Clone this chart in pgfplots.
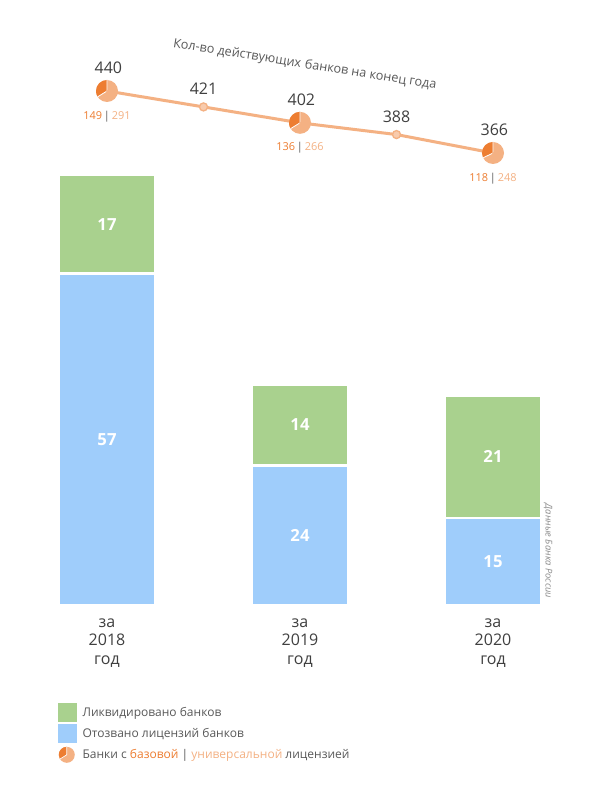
\documentclass[border=0pt]{standalone}
\usepackage{pgfplots}
\pgfplotsset{compat=1.18}
\usepackage{fontspec}
\setmainfont{Open Sans}

\definecolor{barblue}{HTML}{9FCDFB}
\definecolor{bargreen}{HTML}{A9D18E}
\definecolor{dorange}{HTML}{ED7D31}
\definecolor{lorange}{HTML}{F4B183}
\definecolor{pale}{HTML}{F8CBAD}
\definecolor{txtdark}{HTML}{404040}
\definecolor{txtgray}{HTML}{595959}
\definecolor{notegray}{HTML}{8C8C8C}

% both bar axes share the same box
\pgfplotsset{
  baraxis/.style={
    scale only axis, width=434.25pt, height=322.5pt,
    at={(7.875pt,146.25pt)}, anchor=south west,
    xmin=-0.5, xmax=2.5, ymin=0, ymax=74,
    axis line style={draw=none}, major tick length=0pt,
    ytick=\empty, clip=false,
  },
}

\begin{document}
\begin{tikzpicture}
\fill[white] (0pt,0pt) rectangle (450pt,600pt);
\useasboundingbox (0pt,0pt) rectangle (450pt,600pt);

% stacked bars
\begin{axis}[baraxis, ybar stacked, bar width=0.5,
  xtick={0,1,2},
  xticklabels={{за\\2018\\год},{за\\2019\\год},{за\\2020\\год}},
  xticklabel style={align=center, font=\fontsize{12}{13.6}\selectfont, text=txtdark, yshift=-7pt},
  legend style={at={(0.082,-0.228)}, anchor=north west, draw=none, fill=none,
    inner sep=0pt, font=\fontsize{9}{11}\selectfont, text=txtgray,
    row sep=1.5pt, column sep=3pt, nodes={inner sep=1pt}},
  legend cell align=left,
]
\addlegendimage{legend image code/.code={\fill[bargreen, draw=none] (0pt,-7.125pt) rectangle (14.25pt,7.125pt);}}
\addlegendentry{Ликвидировано банков}
\addlegendimage{legend image code/.code={\fill[barblue, draw=none] (0pt,-7.125pt) rectangle (14.25pt,7.125pt);}}
\addlegendentry{Отозвано лицензий банков}
\addlegendimage{legend image code/.code={
  \path[draw=none, fill=none] (0pt,-7.125pt) rectangle (14.25pt,7.125pt);
  \fill[lorange, draw=none] (6.4pt,0pt) circle[radius=6pt];
  \fill[dorange, draw=none] (6.4pt,0pt) -- ++(90:6pt) arc[start angle=90, end angle=212, radius=6pt] -- cycle;
  \draw[white, fill=none, line width=0.5pt] (6.4pt,6pt) -- (6.4pt,0pt) -- ++(212:6pt);}}
\addlegendentry{Банки с \textcolor{dorange}{базовой} \textcolor{txtgray}{|} \textcolor{lorange}{универсальной} лицензией}

\addplot[fill=barblue, draw=white, line width=2pt, forget plot]
  coordinates {(0,57) (1,24) (2,15)};
\addplot[fill=bargreen, draw=white, line width=2pt, forget plot]
  coordinates {(0,17) (1,14) (2,21)};
\end{axis}

% numbers inside the bars
\begin{axis}[baraxis, xtick=\empty]
\addplot[draw=none, mark=none, nodes near coords, point meta=explicit symbolic,
  every node near coord/.append style={anchor=center, text=white,
    font=\bfseries\fontsize{12.5}{14}\selectfont}]
  coordinates {(0,28.5)[57] (0,65.5)[17] (1,12)[24] (1,31)[14] (2,7.5)[15] (2,25.5)[21]};
\end{axis}

% banks at year end
\begin{axis}[scale only axis, width=434.25pt, height=113.1pt,
  at={(7.875pt,443.78pt)}, anchor=south west,
  xmin=-0.5, xmax=2.5, ymin=300, ymax=480, hide axis, clip=false,
  /pgf/number format/assume math mode=true,
]
\addplot[lorange, line width=2.25pt, mark=none]
  coordinates {(0,440) (0.5,421) (1,402) (1.5,388) (2,366)};
\addplot[only marks, mark=*, mark size=3pt,
  mark options={fill=pale, draw=lorange, line width=1pt},
  nodes near coords,
  every node near coord/.append style={anchor=center, yshift=13.5pt, text=txtdark,
    font=\fontsize{12}{14}\selectfont}]
  coordinates {(0.5,421) (1.5,388)};
\addplot[draw=none, mark=none, nodes near coords,
  every node near coord/.append style={anchor=center, xshift=1pt, yshift=17.25pt, text=txtdark,
    font=\fontsize{12}{14}\selectfont}]
  coordinates {(0,440) (1,402) (2,366)};
% pies: basic / universal licence
\addplot[scatter, only marks, mark=*, mark size=0.5pt, color=lorange,
  visualization depends on={value \thisrow{b}\as\vb},
  visualization depends on={value \thisrow{u}\as\vu},
  scatter/@pre marker code/.code={
    \pgfmathsetmacro\pieang{90+360*(\vb/(\vb+\vu))}
    \fill[lorange, draw=none] (0pt,0pt) circle[radius=8.25pt];
    \fill[dorange, draw=none] (0pt,0pt) -- (90:8.25pt) arc[start angle=90, end angle=\pieang, radius=8.25pt] -- cycle;
    \draw[white, fill=none, line width=0.6pt] (90:8.25pt) -- (0pt,0pt) -- (\pieang:8.25pt);
  },
  scatter/@post marker code/.code={}]
  table[row sep=\\] {x y b u\\ 0 440 149 291\\ 1 402 136 266\\ 2 366 118 248\\};
\addplot[draw=none, mark=none,
  visualization depends on={value \thisrow{b}\as\vb},
  visualization depends on={value \thisrow{u}\as\vu},
  nodes near coords={\textcolor{dorange}{\vb}\,\textcolor{txtgray}{|}\,\textcolor{lorange}{\vu}},
  every node near coord/.append style={anchor=center, yshift=-19pt,
    font=\fontsize{8.2}{10}\selectfont}]
  table[row sep=\\] {x y b u\\ 0 440 149 291\\ 1 402 136 266\\ 2 366 118 248\\};
\end{axis}

% tilted caption, in two halves so that its box keeps clear of the 421 label
\begin{scope}[every node/.style={rotate=-9, text=txtgray, font=\fontsize{9.5}{11}\selectfont,
    inner ysep=0pt, inner xsep=1.3pt, text height=7pt, text depth=2pt}]
\node[anchor=east] at (227.25pt,551.5pt) {Кол-во действующих};
\node[anchor=west] at (227.25pt,551.5pt) {банков на конец года};
\end{scope}
\node[rotate=-90, text=notegray, font=\itshape\fontsize{7}{8}\selectfont]
  at (411pt,186.75pt) {Данные Банка России};
\end{tikzpicture}
\end{document}
